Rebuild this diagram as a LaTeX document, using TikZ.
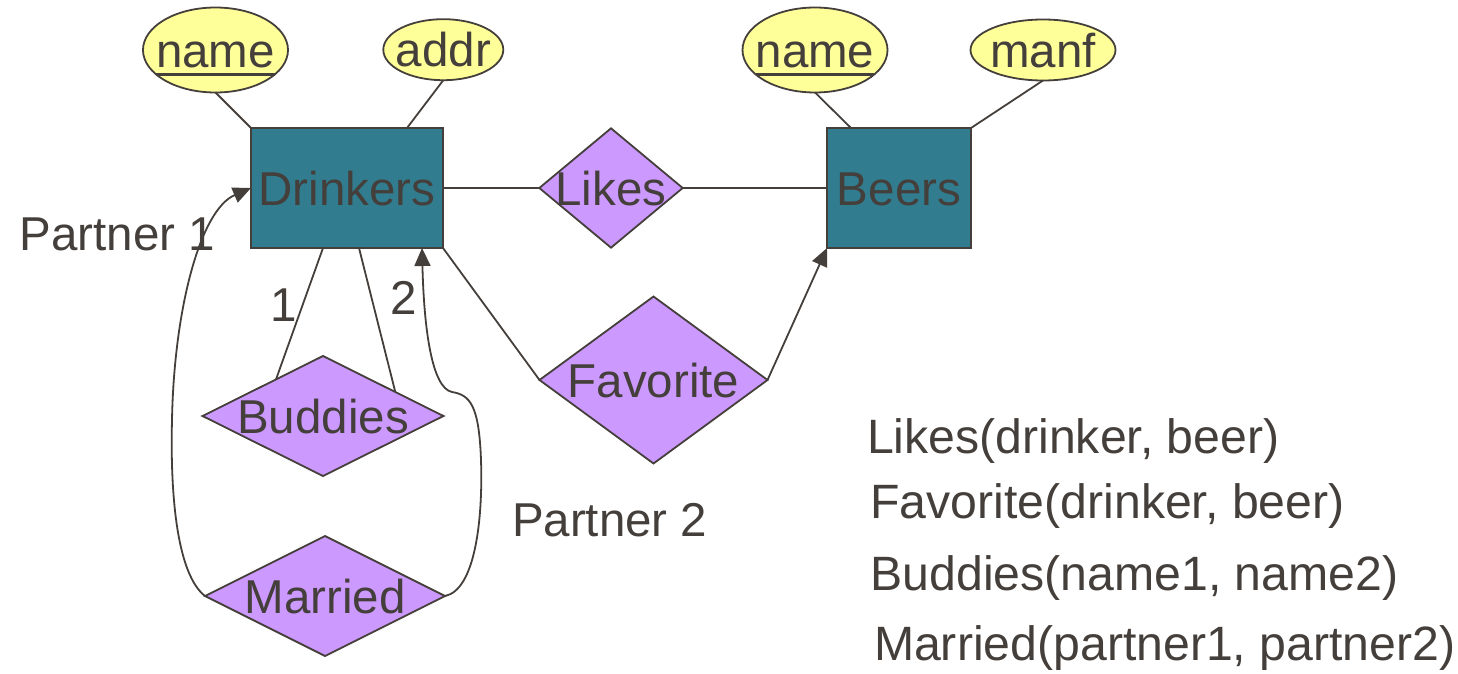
\documentclass[tikz,border=0pt]{standalone}
\usepackage{fontspec}
\setmainfont{Liberation Sans}
\usetikzlibrary{shapes.geometric,arrows.meta,calc}

\definecolor{ink}{RGB}{68,63,59}
\definecolor{entfill}{RGB}{50,124,143}
\definecolor{attrfill}{RGB}{255,255,153}
\definecolor{relfill}{RGB}{204,153,255}

% text centred in a shape without widening it
\newcommand\cbox[1]{\makebox[0pt]{#1}}
% key attribute: thick underline
\newcommand\keyname[1]{\setbox0\hbox{#1}\rlap{\rule[-9pt]{\wd0}{3.4pt}}\box0}
\newcommand\erfont{\fontsize{47.5}{57}\selectfont}
\newcommand\schemafont{\fontsize{48.2}{58}\selectfont}

\tikzset{
  shapebase/.style={draw=ink, line width=1.8pt, inner sep=0pt, outer sep=0pt,
    text=ink, font=\erfont, text height=34.4pt, text depth=0pt},
  entity/.style={shapebase, rectangle, fill=entfill},
  attrib/.style={shapebase, ellipse, fill=attrfill},
  relship/.style={shapebase, diamond, fill=relfill},
  plain/.style={inner sep=0pt, outer sep=0pt, text=ink, font=\erfont, anchor=base west},
  schema/.style={plain, font=\schemafont},
  link/.style={draw=ink, line width=1.8pt},
  arrowlink/.style={link, -{Triangle[length=18pt,width=16pt]}},
}

\begin{document}
\begin{tikzpicture}[x=1pt,y=-1pt]
\useasboundingbox (0,0) rectangle (1458,674);

% entities
\node[entity, minimum width=192pt, minimum height=120pt] (drinkers) at (347,188) {\cbox{Drinkers}};
\node[entity, minimum width=144pt, minimum height=120pt] (beers) at (899,188) {\cbox{Beers}};

% attributes
\node[attrib, minimum width=145pt, minimum height=85pt] (dname) at (215.5,50) {\cbox{\keyname{name}}};
\node[attrib, minimum width=120pt, minimum height=61pt] (addr) at (443.3,49.7) {\cbox{addr}};
\node[attrib, minimum width=145pt, minimum height=85pt] (bname) at (815,50) {\cbox{\keyname{name}}};
\node[attrib, minimum width=145pt, minimum height=61pt] (manf) at (1043,50) {\cbox{manf}};

% relationships
\node[relship, minimum width=143.4pt, minimum height=119.4pt] (likes) at (611,188) {\cbox{Likes}};
\node[relship, minimum width=228pt, minimum height=167pt] (favorite) at (653.5,380) {\cbox{Favorite}};
\node[relship, minimum width=241pt, minimum height=120pt] (buddies) at (323,416) {\cbox{Buddies}};
\node[relship, minimum width=240pt, minimum height=120pt] (married) at (325,596) {\cbox{Married}};

% role labels
\node[plain] (p1) at (19.5,250) {Partner 1};
\node[plain] (p2) at (512,536.7) {Partner 2};
\node[plain] (one) at (270.5,321.7) {1};
\node[plain] (two) at (390,314.3) {2};

% relation schemas
\node[schema] (s1) at (867,453.3) {Likes(drinker, beer)};
\node[schema] (s2) at (870.5,518.3) {Favorite(drinker, beer)};
\node[schema] (s3) at (870.5,590) {Buddies(name1, name2)};
\node[schema] (s4) at (874,660) {Married(partner1, partner2)};

% attribute links
\draw[link] (dname.south) -- (drinkers.north west);
\draw[link] (addr.south) -- ([xshift=-36pt]drinkers.north east);
\draw[link] (bname.south) -- ([xshift=24pt]beers.north west);
\draw[link] (manf.south) -- (beers.north east);

% relationship links
\draw[link] (drinkers.east) -- (likes.west);
\draw[link] (likes.east) -- (beers.west);
\draw[link] (drinkers.south east) -- (favorite.west);
\draw[arrowlink] (favorite.east) -- (beers.south west);
\draw[link] ([xshift=-24pt]drinkers.south) -- ($(buddies.west)!0.61!(buddies.north)$);
\draw[link] ([xshift=12pt]drinkers.south) -- ($(buddies.north)!0.6!(buddies.east)$);

% Married: two roles back to Drinkers
\draw[arrowlink] (married.west)
  .. controls (178,575) and (170,500) .. (172,420)
  .. controls (174,310) and (200,210) .. (drinkers.west);
\draw[arrowlink] (married.east)
  .. controls (475,590) and (483,520) .. (481,460)
  .. controls (479,405) and (470,395) .. (452,392)
  .. controls (432,388) and (424,330) .. ([xshift=-21pt]drinkers.south east);
\end{tikzpicture}
\end{document}
